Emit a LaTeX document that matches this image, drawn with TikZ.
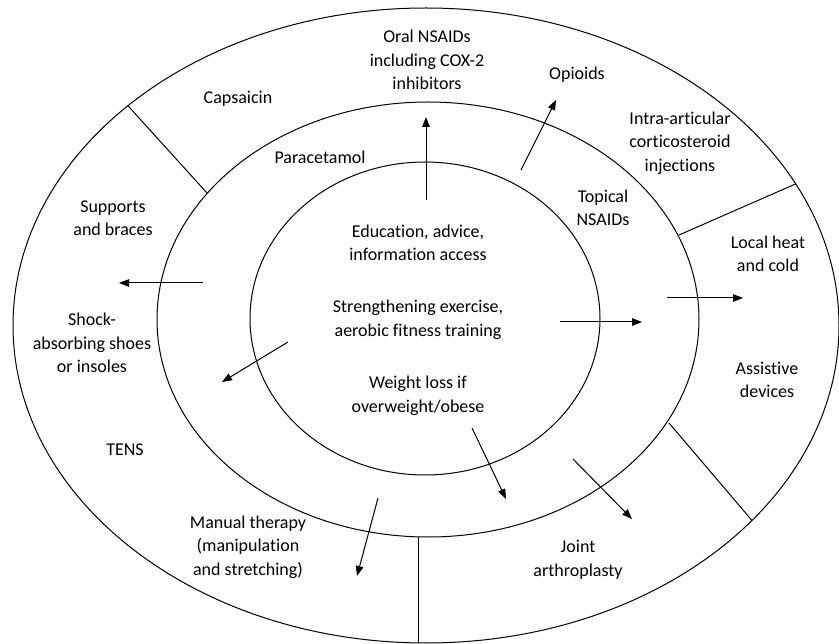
\documentclass[tikz,border=0pt]{standalone}
\usepackage{fontspec}
\setmainfont{Carlito}[Ligatures={CommonOff}]
\usetikzlibrary{arrows.meta}
\tikzset{
  ring/.style={draw=black, line width=1pt},
  divider/.style={draw=black, line width=1pt},
  flow/.style={draw=black, line width=1pt, -{Triangle[length=10pt,width=7.5pt]}},
  lbl/.style={align=center, inner sep=0pt, font=\fontsize{18}{23.5}\selectfont}
}
\begin{document}
\begin{tikzpicture}[x=1pt,y=-1pt]
\useasboundingbox (0,0) rectangle (839,644);
% rings
\draw[ring] (426,325.5) ellipse [x radius=413pt, y radius=317.5pt];
\draw[ring] (428,319.5) ellipse [x radius=271pt, y radius=217.5pt];
\draw[ring] (425,318.5) ellipse [x radius=175pt, y radius=156.5pt];
% dividers
\coordinate (d1a) at (127.9,105.7); \coordinate (d1b) at (207,193);
\coordinate (d2a) at (679,235); \coordinate (d2b) at (795.7,183.9);
\coordinate (d3a) at (669,423); \coordinate (d3b) at (752,520.5);
\coordinate (d4a) at (418,537); \coordinate (d4b) at (418,643);
\draw[divider] (d1a) -- (d1b);
\draw[divider] (d2a) -- (d2b);
\draw[divider] (d3a) -- (d3b);
\draw[divider] (d4a) -- (d4b);
% labels
\node[lbl] (oral) at (427,60) {Oral NSAIDs\\including COX-2\\inhibitors};
\node[lbl] (caps) at (238,99) {Capsaicin};
\node[lbl] (para) at (320,157) {Paracetamol};
\node[lbl] (opio) at (577,75) {Opioids};
\node[lbl] (intra) at (680,143) {Intra-articular\\corticosteroid\\injections};
\node[lbl] (topi) at (603,208) {Topical\\NSAIDs};
\node[lbl] (supp) at (113,218) {Supports\\and braces};
\node[lbl] (edu) at (418,243) {Education, advice,\\information access};
\node[lbl] (stre) at (418,320) {Strengthening exercise,\\aerobic fitness training};
\node[lbl] (weig) at (418,396) {Weight loss if\\overweight/obese};
\node[lbl] (heat) at (768,254) {Local heat\\and cold};
\node[lbl] (shoe) at (92,343) {Shock-\\absorbing shoes\\or insoles};
\node[lbl] (assi) at (767,380) {Assistive\\devices};
\node[lbl] (tens) at (125,450) {TENS};
\node[lbl] (manu) at (248,547) {Manual therapy\\(manipulation\\and stretching)};
\node[lbl] (join) at (578,560) {Joint\\arthroplasty};
% arrows
\coordinate (a1s) at (426,200); \coordinate (a1e) at (426,117);
\coordinate (a2s) at (521,170); \coordinate (a2e) at (556,100);
\coordinate (a3s) at (203,283); \coordinate (a3e) at (119,283);
\coordinate (a4s) at (560,322); \coordinate (a4e) at (642,322);
\coordinate (a5s) at (667,298); \coordinate (a5e) at (743,298);
\coordinate (a6s) at (288,342); \coordinate (a6e) at (222,382);
\coordinate (a7s) at (378,498); \coordinate (a7e) at (357,576);
\coordinate (a8s) at (472,428); \coordinate (a8e) at (506,499);
\coordinate (a9s) at (573,459); \coordinate (a9e) at (632,519);
\draw[flow] (a1s) -- (a1e);
\draw[flow] (a2s) -- (a2e);
\draw[flow] (a3s) -- (a3e);
\draw[flow] (a4s) -- (a4e);
\draw[flow] (a5s) -- (a5e);
\draw[flow] (a6s) -- (a6e);
\draw[flow] (a7s) -- (a7e);
\draw[flow] (a8s) -- (a8e);
\draw[flow] (a9s) -- (a9e);
\end{tikzpicture}
\end{document}
